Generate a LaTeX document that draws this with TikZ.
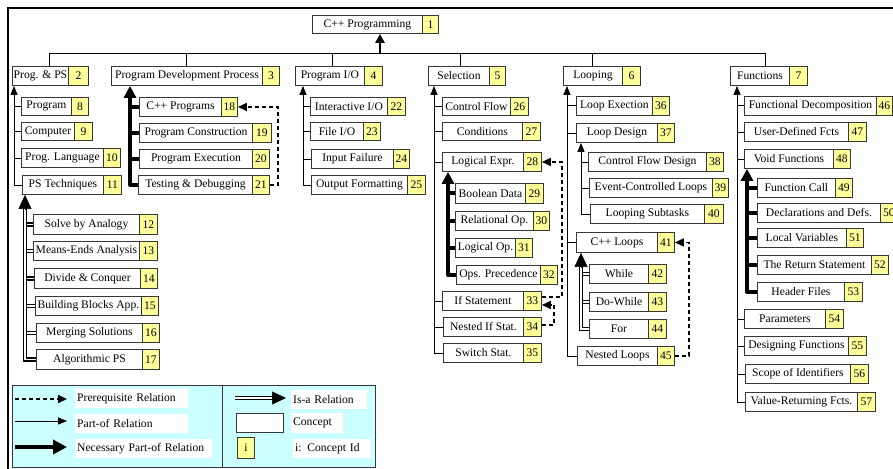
\documentclass[tikz,border=0pt]{standalone}
\usepackage{fontspec}
\setmainfont{Liberation Serif}
\usetikzlibrary{arrows.meta,calc}
\definecolor{idyellow}{RGB}{255,255,153}
\definecolor{legcyan}{RGB}{204,255,255}
\definecolor{boxline}{RGB}{55,55,55}
\tikzset{
 txt/.style={font=\fontsize{11.6}{13}\selectfont},
 cbox/.style={txt, draw=boxline, line width=0.9pt, fill=white, inner sep=0pt, anchor=north west},
 idbox/.style={cbox, fill=idyellow},
 partline/.style={line width=0.9pt},
 partof/.style={partline, -{Triangle[width=7pt,length=9pt]}},
 necline/.style={line width=4pt, line join=round},
 necof/.style={necline, -{Triangle[width=12pt,length=12pt]}},
 isaline/.style={double, line width=1.8pt, double distance=1.2pt},
 isahead/.style={line width=0.5pt, -{Triangle[width=13pt,length=14pt]}},
 prereq/.style={line width=1.6pt, dash pattern=on 4pt off 3pt, -{Triangle[width=8pt,length=9pt]}},
 rootarrow/.style={line width=2.4pt, -{Triangle[width=9pt,length=9pt]}},
 leglabel/.style={txt, fill=white, anchor=north west, inner xsep=2pt, inner ysep=0pt, text width=#1, align=left, minimum height=19pt},
}
\newcommand\cpt[8]{%
 \node[cbox, minimum width={(#4-#2)*1pt}, minimum height={(#6-#3)*1pt}] (#1) at (#2,#3) {#7};
 \node[idbox, minimum width={(#5-#4)*1pt}, minimum height={(#6-#3)*1pt}] (#1i) at (#4,#3) {#8};}
\begin{document}
\begin{tikzpicture}[x=1pt,y=-1pt]
\fill[white] (0,0) rectangle (893,468);
\useasboundingbox (0,0) rectangle (893,468);
% frame
\draw[line width=1.5pt] (8,470) -- (8,8) -- (895,8);
% concepts
\cpt{n1}{312}{15}{422}{438}{33}{C++ Programming}{1}
\cpt{n2}{12}{66}{68}{88}{85}{Prog. \& PS}{2}
\cpt{n3}{111}{66}{262}{279}{85}{Program Development Process}{3}
\cpt{n4}{295}{66}{364}{382}{85}{Program I/O}{4}
\cpt{n5}{428}{66}{489}{505}{85}{Selection}{5}
\cpt{n6}{563}{66}{622}{640}{85}{Looping}{6}
\cpt{n7}{730}{66}{789}{807}{85}{Functions}{7}
\cpt{n8}{21}{97}{71}{88}{115}{Program}{8}
\cpt{n9}{21}{122}{74}{92}{140}{Computer}{9}
\cpt{n10}{21}{148}{103}{120}{167}{Prog. Language}{10}
\cpt{n11}{22}{175}{103}{121}{194}{PS Techniques}{11}
\cpt{n12}{33}{214}{139}{157}{234}{Solve by Analogy}{12}
\cpt{n13}{33}{241}{139}{157}{260}{Means-Ends Analysis}{13}
\cpt{n14}{34}{268}{140}{157}{288}{Divide \& Conquer}{14}
\cpt{n15}{35}{296}{141}{158}{315}{Building Blocks App.}{15}
\cpt{n16}{36}{323}{142}{159}{342}{Merging Solutions}{16}
\cpt{n17}{36}{349}{142}{159}{369}{Algorithmic PS}{17}
\cpt{n18}{139}{97}{221}{237}{116}{C++ Programs}{18}
\cpt{n19}{139}{123}{252}{271}{142}{Program Construction}{19}
\cpt{n20}{139}{149}{252}{269}{168}{Program Execution}{20}
\cpt{n21}{138}{175}{252}{269}{194}{Testing \& Debugging}{21}
\cpt{n22}{310}{97}{387}{405}{115}{Interactive I/O}{22}
\cpt{n23}{310}{122}{363}{380}{140}{File I/O}{23}
\cpt{n24}{311}{149}{393}{409}{168}{Input Failure}{24}
\cpt{n25}{311}{175}{407}{425}{194}{Output Formatting}{25}
\cpt{n26}{442}{97}{510}{528}{115}{Control Flow}{26}
\cpt{n27}{442}{122}{522}{540}{140}{Conditions}{27}
\cpt{n28}{442}{152}{523}{541}{171}{Logical Expr.}{28}
\cpt{n29}{455}{183}{525}{543}{203}{Boolean Data}{29}
\cpt{n30}{455}{211}{533}{549}{230}{Relational Op.}{30}
\cpt{n31}{455}{238}{515}{532}{257}{Logical Op.}{31}
\cpt{n32}{456}{265}{540}{557}{284}{Ops. Precedence}{32}
\cpt{n33}{442}{291}{523}{541}{310}{If Statement}{33}
\cpt{n34}{443}{317}{523}{541}{336}{Nested If Stat.}{34}
\cpt{n35}{443}{343}{523}{541}{362}{Switch Stat.}{35}
\cpt{n36}{576}{96}{652}{669}{115}{Loop Exection}{36}
\cpt{n37}{576}{123}{657}{674}{142}{Loop Design}{37}
\cpt{n38}{588}{152}{706}{723}{171}{Control Flow Design}{38}
\cpt{n39}{589}{178}{712}{728}{197}{Event-Controlled Loops}{39}
\cpt{n40}{590}{204}{704}{723}{223}{Looping Subtasks}{40}
\cpt{n41}{576}{232}{657}{674}{252}{C++ Loops}{41}
\cpt{n42}{589}{264}{648}{666}{283}{While}{42}
\cpt{n43}{589}{292}{648}{666}{311}{Do-While}{43}
\cpt{n44}{589}{319}{648}{666}{338}{For}{44}
\cpt{n45}{577}{346}{657}{674}{365}{Nested Loops}{45}
\cpt{n46}{744}{96}{876}{892}{115}{Functional Decomposition}{46}
\cpt{n47}{744}{122}{848}{866}{141}{User-Defined Fcts}{47}
\cpt{n48}{744}{149}{833}{850}{168}{Void Functions}{48}
\cpt{n49}{757}{178}{835}{852}{197}{Function Call}{49}
\cpt{n50}{757}{203}{880}{897}{222}{Declarations and Defs.}{50}
\cpt{n51}{757}{228}{846}{863}{247}{Local Variables}{51}
\cpt{n52}{757}{255}{871}{888}{274}{The Return Statement}{52}
\cpt{n53}{757}{282}{844}{862}{301}{Header Files}{53}
\cpt{n54}{744}{309}{825}{843}{328}{Parameters}{54}
\cpt{n55}{744}{336}{848}{866}{355}{Designing Functions}{55}
\cpt{n56}{745}{364}{850}{868}{383}{Scope of Identifiers}{56}
\cpt{n57}{745}{392}{857}{875}{411}{Value-Returning Fcts.}{57}
% bus
\coordinate (d2) at (49,53); \coordinate (d3) at (186,53); \coordinate (d4) at (332,53);
\coordinate (d5) at (460,53); \coordinate (d6) at (592,53); \coordinate (d7) at (765,53);
\coordinate (r0) at (380,53);
\draw[partline] (d2) -- (d7);
\foreach \d/\n in {d2/n2,d3/n3,d4/n4,d5/n5,d6/n6,d7/n7} {\draw[partline] (\d) -- (\d |- \n.north);}
\draw[rootarrow] (r0) -- (r0 |- n1.south);
% spine x positions
\coordinate (s2) at (14,0); \coordinate (s11) at (25,0); \coordinate (s3) at (130,0);
\coordinate (s4) at (303,0); \coordinate (s5) at (434,0); \coordinate (s28) at (448,0);
\coordinate (s6) at (567,0); \coordinate (s37) at (581,0); \coordinate (s41) at (581,0);
\coordinate (s7) at (737,0); \coordinate (s48) at (747,0);
% part-of groups
\foreach \c in {n8,n9,n10} {\draw[partline] (\c.west) -- (\c.west -| s2);}
\draw[partof] (n11.west) -| (n2.south -| s2);
\foreach \c in {n22,n23,n24} {\draw[partline] (\c.west) -- (\c.west -| s4);}
\draw[partof] (n25.west) -| (n4.south -| s4);
\foreach \c in {n26,n27,n28,n33,n34} {\draw[partline] (\c.west) -- (\c.west -| s5);}
\draw[partof] (n35.west) -| (n5.south -| s5);
\foreach \c in {n36,n37,n41} {\draw[partline] (\c.west) -- (\c.west -| s6);}
\draw[partof] (n45.west) -| (n6.south -| s6);
\foreach \c in {n38,n39} {\draw[partline] (\c.west) -- (\c.west -| s37);}
\draw[partof] (n40.west) -| (n37.south -| s37);
\foreach \c in {n46,n47,n48,n54,n55,n56} {\draw[partline] (\c.west) -- (\c.west -| s7);}
\draw[partof] (n57.west) -| (n7.south -| s7);
% necessary part-of groups
\foreach \c in {n18,n19,n20} {\draw[necline] (\c.west) -- (\c.west -| s3);}
\draw[necof] (n21.west) -| (n3.south -| s3);
\foreach \c in {n29,n30,n31} {\draw[necline] (\c.west) -- (\c.west -| s28);}
\draw[necof] (n32.west) -| (n28.south -| s28);
\foreach \c in {n49,n50,n51,n52} {\draw[necline] (\c.west) -- (\c.west -| s48);}
\draw[necof] (n53.west) -| (n48.south -| s48);
% is-a groups
\foreach \c in {n12,n13,n14,n15,n16} {\draw[isaline] (\c.west) -- (\c.west -| s11);}
\draw[isaline] (n17.west) -| ($(n11.south -| s11)+(0,13)$);
\draw[isahead] ($(n11.south -| s11)+(0,14)$) -- (n11.south -| s11);
\foreach \c in {n42,n43} {\draw[isaline] (\c.west) -- (\c.west -| s41);}
\draw[isaline] (n44.west) -| ($(n41.south -| s41)+(0,13)$);
\draw[isahead] ($(n41.south -| s41)+(0,14)$) -- (n41.south -| s41);
% prerequisites
\draw[prereq] (n21i.east) -- ++(8,0) |- (n18i.east);
\draw[prereq] ([yshift=4pt]n33i.east) -- ++(20,0) |- (n28i.east);
\draw[prereq] ([yshift=2pt]n34i.east) -- ++(12,0) |- ([yshift=-4pt]n33i.east);
\draw[prereq] (n45i.east) -- ++(14,0) |- (n41i.east);
% legend
\node[draw=boxline, line width=1pt, fill=legcyan, anchor=north west, inner sep=0pt, minimum width=363pt, minimum height=82pt] (legend) at (12,385) {};
\coordinate (ldiv) at (222,0);
\draw[line width=1pt, boxline] (ldiv |- legend.north) -- (ldiv |- legend.south);
\node[leglabel=109pt] (lt1) at (75,389) {Prerequisite Relation};
\node[leglabel=109pt] (lt2) at (75,414) {Part-of Relation};
\node[leglabel=133pt] (lt3) at (75,439) {Necessary Part-of Relation};
\node[leglabel=72pt] (lt4) at (291,390) {Is-a Relation};
\node[leglabel=48pt, minimum height=20pt] (lt5) at (291,413) {Concept};
\node[leglabel=74pt] (lt6) at (293,439) {i: Concept Id};
\coordinate (la1) at (15,399); \coordinate (lb1) at (67,399);
\coordinate (la2) at (15,421); \coordinate (lb2) at (67,421);
\coordinate (la3) at (15,447); \coordinate (lb3) at (67,447);
\coordinate (la4) at (235,398); \coordinate (lm4) at (273,398); \coordinate (lb4) at (286,398);
\draw[prereq] (la1) -- (lb1);
\draw[partof] (la2) -- (lb2);
\draw[line width=4.5pt, -{Triangle[width=14pt,length=14pt]}] (la3) -- (lb3);
\draw[isaline] (la4) -- (lm4);
\draw[isahead] ($(lm4)+(-1,0)$) -- (lb4);
\node[cbox, minimum width=47pt, minimum height=19pt] (lcb) at (236,413) {};
\node[idbox, minimum width=17pt, minimum height=21pt] (lib) at (237,437) {i};
\end{tikzpicture}
\end{document}
